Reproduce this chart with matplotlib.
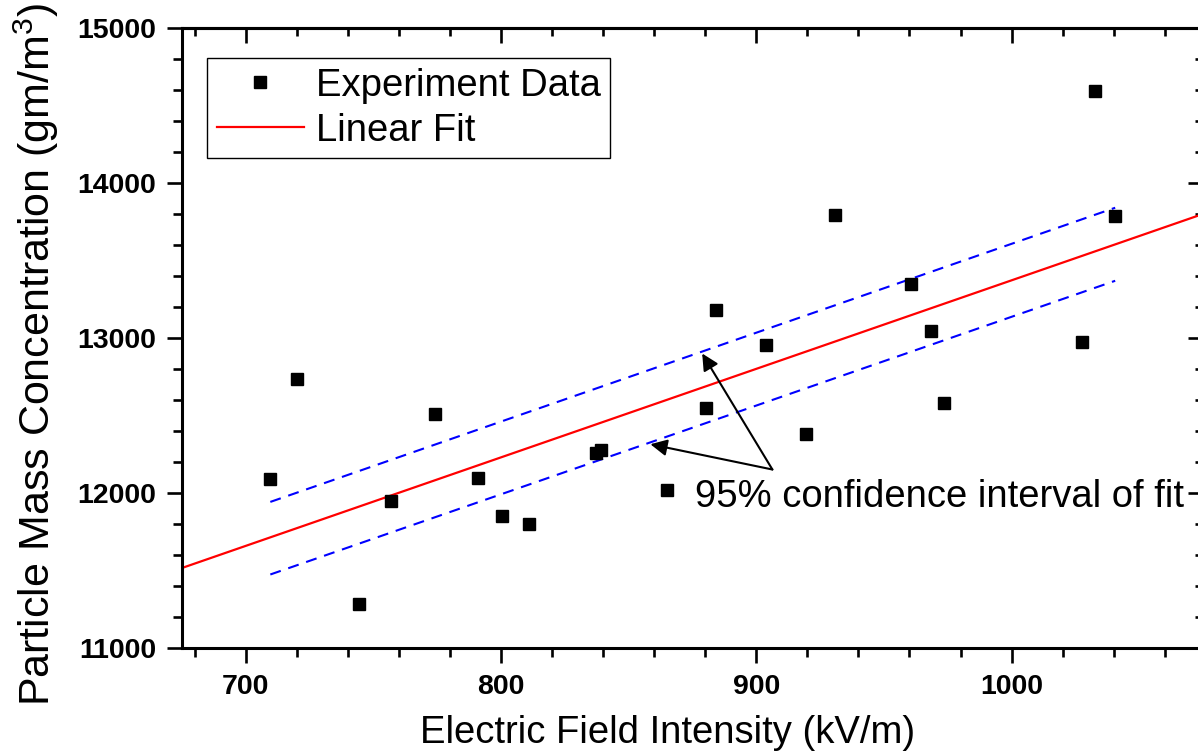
import numpy as np
import matplotlib
matplotlib.use('Agg')
import matplotlib.pyplot as plt
from matplotlib.ticker import MultipleLocator

plt.rcParams['font.family'] = ['Liberation Sans', 'DejaVu Sans']
plt.rcParams['mathtext.default'] = 'regular'
plt.rcParams['axes.linewidth'] = 2.2

# measured points
field = [709.5, 720.2, 744.3, 757.0, 774.3, 790.8, 800.2, 811.1, 837.1, 839.1,
         865.1, 880.4, 884.1, 903.6, 919.3, 930.7, 960.5, 968.3, 973.5, 1027.5,
         1032.8, 1040.6]
mass = [12088, 12736, 11281, 11951, 12509, 12099, 11850, 11799, 12260, 12277,
        12019, 12547, 13178, 12955, 12378, 13792, 13348, 13047, 12582, 12976,
        14592, 13788]

# linear fit and 95% band
fit_x = [675, 1075]
fit_y = [11516, 13799]
band_x = [709.6, 1040.6]
band_upper = [11942, 13839]
band_lower = [11474, 13368]

fig = plt.figure(figsize=(11.98, 7.54), dpi=100)
ax = fig.add_axes([182 / 1198, 1 - 648 / 754, 1021 / 1198, 620.3 / 754])

ax.plot(field, mass, 's', color='black', markersize=8.2, linestyle='none',
        label='Experiment Data', zorder=3)
ax.plot(fit_x, fit_y, color='#ff0000', lw=1.6, label='Linear Fit')
ax.plot(band_x, band_upper, color='#0000ff', lw=1.5, linestyle=(0, (5.3, 3.8)))
ax.plot(band_x, band_lower, color='#0000ff', lw=1.5, linestyle=(0, (5.3, 3.8)))

ax.set_xlim(675, 1075)
ax.set_ylim(11000, 15000)
ax.xaxis.set_major_locator(MultipleLocator(100))
ax.xaxis.set_minor_locator(MultipleLocator(20))
ax.yaxis.set_major_locator(MultipleLocator(1000))
ax.yaxis.set_minor_locator(MultipleLocator(200))
ax.tick_params(which='major', direction='out', length=10.8, width=1.9, pad=8)
ax.tick_params(which='minor', direction='out', length=6.5, width=1.9)
for lab in ax.get_xticklabels() + ax.get_yticklabels():
    lab.set_fontsize(20.5)
    lab.set_fontweight('bold')

# mirrored ticks pointing inward on top and right
top = ax.secondary_xaxis('top')
top.xaxis.set_major_locator(MultipleLocator(100))
top.xaxis.set_minor_locator(MultipleLocator(20))
top.tick_params(which='major', direction='in', length=10.8, width=1.9, labeltop=False)
top.tick_params(which='minor', direction='in', length=5.5, width=1.9)
right = ax.secondary_yaxis('right')
right.yaxis.set_major_locator(MultipleLocator(1000))
right.yaxis.set_minor_locator(MultipleLocator(200))
right.tick_params(which='major', direction='in', length=10.8, width=1.9, labelright=False)
right.tick_params(which='minor', direction='in', length=5.5, width=1.9)

ax.set_xlabel('Electric Field Intensity (kV/m)', fontsize=27.5)
ax.xaxis.set_label_coords((668 - 182) / 1021, (648 - 733) / 620.3)
ax.xaxis.label.set_va('center')
ax.set_ylabel('Particle Mass Concentration (gm/m$^3$)', fontsize=31)
ax.yaxis.set_label_coords((36 - 182) / 1021, (648 - 354) / 620.3)
ax.yaxis.label.set_va('center')

leg = ax.legend(loc='upper left', bbox_to_anchor=(0.0245, 0.951), borderaxespad=0,
                fontsize=27.5, fancybox=False, edgecolor='black', framealpha=1,
                handlelength=2.3, handletextpad=0.3, borderpad=0.25,
                labelspacing=0.24, markerscale=1.0)
leg.get_frame().set_linewidth(1.0)

# annotation with two arrows
ax.text(875.9, 11911, '95% confidence interval of fit', fontsize=27.5,
        ha='left', va='baseline')
for head in [(878.8, 12899), (858.5, 12314)]:
    ax.annotate('', xy=head, xytext=(906.3, 12151),
                arrowprops=dict(arrowstyle='-|>', color='black', lw=1.5,
                                mutation_scale=25, shrinkA=0, shrinkB=0))

fig.savefig('out.png', dpi=100)
